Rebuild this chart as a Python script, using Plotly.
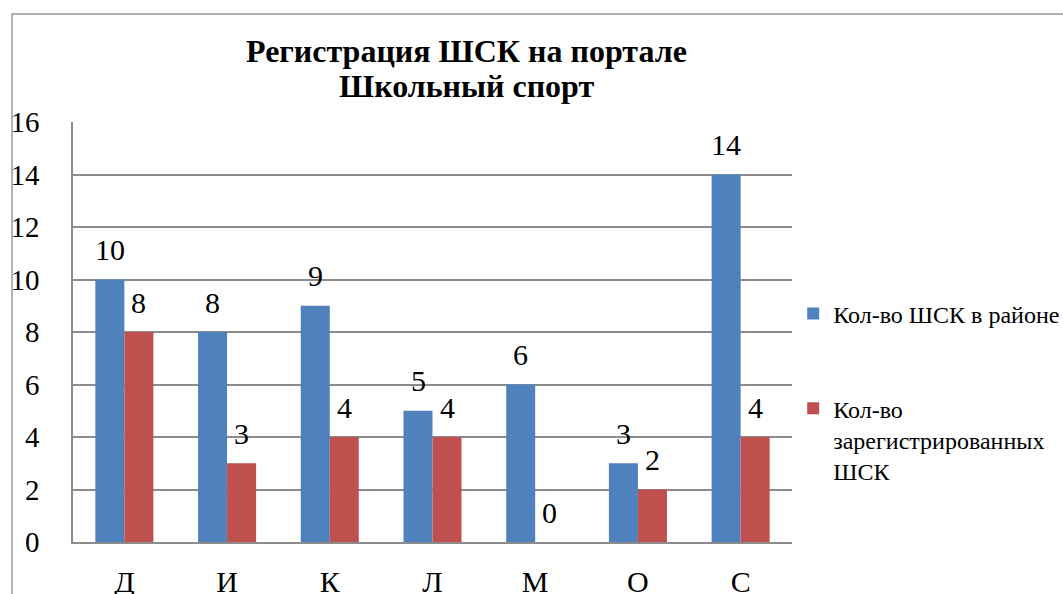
import plotly.graph_objects as go

categories = ["Д", "И", "К", "Л", "М", "О", "С"]
total_clubs = [10, 8, 9, 5, 6, 3, 14]
registered_clubs = [8, 3, 4, 4, 0, 2, 4]
series_names = ["Кол-во ШСК в районе", "Кол-во<br>зарегистрированных<br>ШСК"]
title_lines = ["Регистрация ШСК на портале", "Школьный спорт"]
y_ticks = [0, 2, 4, 6, 8, 10, 12, 14, 16]

BLUE = "#4F81BD"
RED = "#C0504D"
GRID = "#8c8c8c"
FONT = "Liberation Serif"

fig = go.Figure()
fig.add_trace(go.Bar(x=categories, y=total_clubs, name=series_names[0], showlegend=True,
                     marker=dict(color=BLUE, line=dict(width=0)), legend="legend"))
fig.add_trace(go.Bar(x=categories, y=registered_clubs, name=series_names[1], showlegend=True,
                     marker=dict(color=RED, line=dict(width=0)), legend="legend2"))

annotations = []
for cat, v in zip(categories, total_clubs):
    annotations.append(dict(x=cat, y=v, xref="x", yref="y", text=str(v), showarrow=False,
                            xshift=-14.5, yshift=30, yanchor="middle",
                            font=dict(family=FONT, size=30, color="black")))
for cat, v in zip(categories, registered_clubs):
    annotations.append(dict(x=cat, y=v, xref="x", yref="y", text=str(v), showarrow=False,
                            xshift=14.5, yshift=30, yanchor="middle",
                            font=dict(family=FONT, size=30, color="black")))

# title, two lines with tight spacing
for line, ypix in zip(title_lines, [51, 86]):
    annotations.append(dict(x=(466 - 73) / 719, y=(542 - ypix) / 420, xref="paper", yref="paper",
                            text=line, showarrow=False, xanchor="center", yanchor="middle",
                            font=dict(family=FONT, size=32, color="black", weight="bold")))

fig.update_layout(
    width=1063, height=594,
    margin=dict(l=73, r=271, t=122, b=52, autoexpand=False),
    paper_bgcolor="white", plot_bgcolor="white",
    barmode="group", bargap=0.435, bargroupgap=0,
    showlegend=True,
    font=dict(family=FONT, color="black"),
    xaxis=dict(showline=True, linecolor=GRID, linewidth=1.5, ticks="", showgrid=False,
               tickfont=dict(family=FONT, size=30, color="black"), ticklabelstandoff=12),
    yaxis=dict(range=[0, 16], tickvals=y_ticks, showline=True, linecolor=GRID, linewidth=1.5,
               showgrid=True, gridcolor=GRID, gridwidth=1.5, zeroline=False, ticks="",
               tickfont=dict(family=FONT, size=29, color="black"), ticklabelstandoff=26),
    legend=dict(x=1.01 - 6 / 719, xanchor="left", y=(542 - 314) / 420, yanchor="middle",
                font=dict(family=FONT, size=24, color="black"), bgcolor="rgba(0,0,0,0)"),
    legend2=dict(x=1.01 - 6 / 719, xanchor="left", y=0.371, yanchor="top", valign="top",
                 font=dict(family=FONT, size=24, color="black"), bgcolor="rgba(0,0,0,0)"),
    annotations=annotations,
    shapes=[dict(type="rect", xref="paper", yref="paper",
                 x0=(12 - 73) / 719, x1=2.0, y0=-1.0, y1=(542 - 14) / 420,
                 line=dict(color="#999999", width=1.5), layer="below")],
)

fig.write_html("out.html",
               post_script=("document.body.style.margin='0';"
                            "document.body.style.overflow='hidden';"
                            "var mb=document.querySelector('.modebar-container');"
                            "if(mb){mb.style.display='none';}"))
